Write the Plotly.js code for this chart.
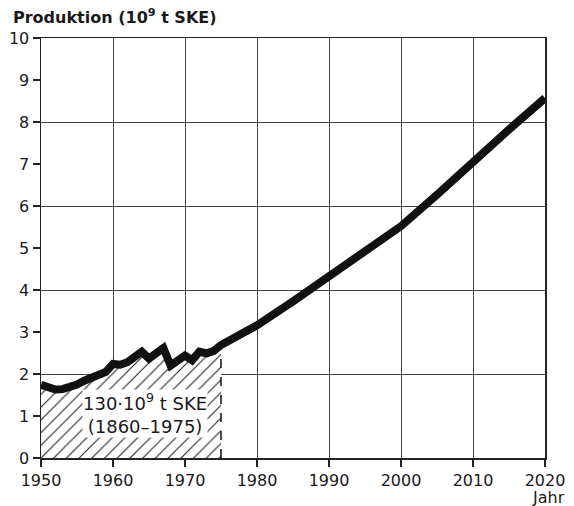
<!DOCTYPE html>
<html>
<head>
<meta charset="utf-8">
<script src="https://cdn.plot.ly/plotly-3.0.1.min.js"></script>
<style>html,body{margin:0;padding:0;background:#fff;}#chart{width:574px;height:506px;}</style>
</head>
<body>
<div id="chart"></div>
<script>
// Historical production (hatched area 1950-1975)
const histYears = [1950,1951,1952,1953,1954,1955,1956,1957,1958,1959,1960,1961,1962,1963,1964,1965,1966,1967,1968,1969,1970,1971,1972,1973,1974,1975];
const histValues = [1.74,1.67,1.63,1.64,1.68,1.75,1.84,1.91,1.98,2.05,2.24,2.22,2.28,2.40,2.53,2.37,2.52,2.62,2.20,2.33,2.44,2.33,2.53,2.49,2.55,2.69];
// Projection
const projYears = [1980,1985,1990,1995,2000,2005,2010,2015,2020];
const projValues = [3.16,3.73,4.33,4.92,5.52,6.27,7.06,7.82,8.57];

const xTicks = [1950,1960,1970,1980,1990,2000,2010,2020];
const yTicks = [0,1,2,3,4,5,6,7,8,9,10];

const titleText = '<b>Produktion (10<sup>9</sup> t SKE)</b>';
const xLabel = 'Jahr';
const boxText = '130·10<sup>9</sup> t SKE<br>(1860–1975)';

const allYears = histYears.concat(projYears);
const allValues = histValues.concat(projValues);
const lastHistX = histYears[histYears.length-1];
const lastHistY = histValues[histValues.length-1];

const fam = 'DejaVu Sans, Verdana, sans-serif';
const font = {family:fam, size:16, color:'#1a1a1a'};

const traces = [
  {
    x: histYears, y: histValues, type:'scatter', mode:'lines',
    fill:'tozeroy', line:{width:0, color:'rgba(0,0,0,0)'},
    fillcolor:'white',
    fillpattern:{shape:'/', size:9, solidity:0.12, fgcolor:'#222', bgcolor:'white'},
    hoverinfo:'skip', showlegend:false
  },
  {
    x: allYears, y: allValues, type:'scatter', mode:'lines',
    line:{color:'#111', width:8, shape:'linear'},
    showlegend:false
  },
  {
    x:[1950,2020], y:[0,10], yaxis:'y2', type:'scatter', mode:'markers',
    marker:{opacity:0}, hoverinfo:'skip', showlegend:false
  }
];

const layout = {
  width:574, height:506,
  margin:{l:41, r:29, t:38, b:48},
  paper_bgcolor:'white', plot_bgcolor:'white',
  font: font,
  showlegend:false,
  xaxis:{
    range:[1950,2020], tickvals:xTicks, ticktext:xTicks.map(String),
    showgrid:true, gridcolor:'#444', gridwidth:1,
    showline:true, linecolor:'#222', linewidth:1.5, mirror:true,
    ticks:'outside', ticklen:7, tickcolor:'#222', tickwidth:1.2,
    zeroline:false, tickfont:font
  },
  yaxis:{
    range:[0,10], tickvals:yTicks, ticktext:yTicks.map(String),
    showgrid:false,
    showline:true, linecolor:'#222', linewidth:1.5, mirror:true,
    ticks:'outside', ticklen:7, tickcolor:'#222', tickwidth:1.2,
    zeroline:false, tickfont:font
  },
  yaxis2:{
    range:[0,10], overlaying:'y', dtick:2, tick0:0,
    showgrid:true, gridcolor:'#444', gridwidth:1,
    showticklabels:false, ticks:'', showline:false, zeroline:false
  },
  shapes:[
    {type:'line', xref:'x', yref:'y', x0:lastHistX, x1:lastHistX, y0:0, y1:lastHistY,
     line:{color:'#111', width:1.5, dash:'dash'}}
  ],
  annotations:[
    {text:titleText, xref:'paper', yref:'paper', x:-30/504, y:1+(38-17)/420, xanchor:'left', yanchor:'middle',
     showarrow:false, font:{family:fam, size:16, color:'#1a1a1a'}},
    {text:xLabel, xref:'paper', yref:'paper', x:1+22/504, y:-39/420, xanchor:'right', yanchor:'middle',
     showarrow:false, font:font},
    {text:boxText, xref:'x', yref:'y', x:1964.4, y:1.07, xanchor:'center', yanchor:'middle',
     showarrow:false, bgcolor:'white', borderpad:0, font:{family:fam, size:18, color:'#1a1a1a'}}
  ]
};

Plotly.newPlot('chart', traces, layout, {staticPlot:true, displayModeBar:false});
</script>
</body>
</html>
